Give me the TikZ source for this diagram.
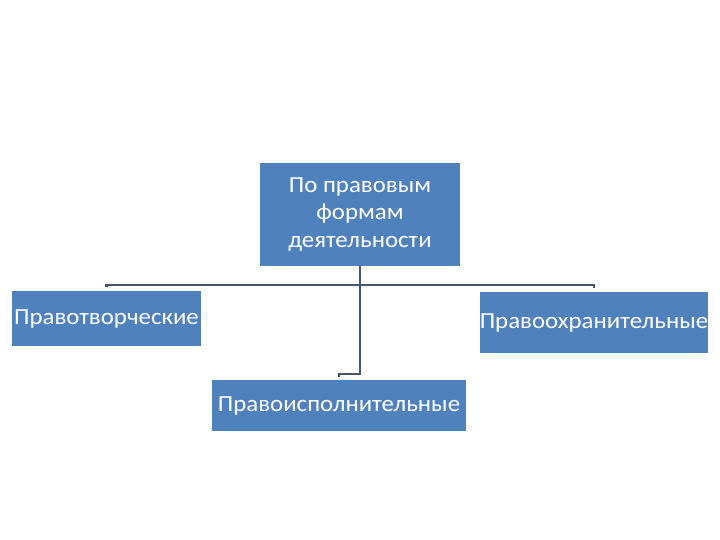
\documentclass[tikz,border=0pt]{standalone}
\usepackage{fontspec}
\setmainfont{Carlito}[FakeStretch=1.08]
\definecolor{boxblue}{RGB}{79,129,189}
\definecolor{linecol}{RGB}{68,84,106}
\begin{document}
\begin{tikzpicture}[x=1pt,y=-1pt,
  box/.style={fill=boxblue,draw=none,text=white,inner sep=0pt,align=center,font=\fontsize{23}{27.5}\selectfont},
  conn/.style={draw=linecol,line width=2.2pt}]
\useasboundingbox[fill=white] (0,0) rectangle (720,540);
\node[box,minimum width=200pt,minimum height=103pt] (top) at (360,214.5) {По правовым\\формам\\деятельности};
\node[box,minimum width=189pt,minimum height=55pt] (left) at (106.5,318.5) {Правотворческие};
\node[box,minimum width=228pt,minimum height=61pt] (right) at (594,322.5) {Правоохранительные};
\node[box,minimum width=254pt,minimum height=51pt] (bottom) at (339,405.5) {Правоисполнительные};
\coordinate (bus) at (360,285);
\coordinate (bus2) at (360,374);
\draw[conn,shorten <=4pt,shorten >=4pt] (left.north) |- (bus) -| (right.north);
\draw[conn,shorten >=3pt] (top.south) -- (bus2) -| (bottom.north);
\end{tikzpicture}
\end{document}
